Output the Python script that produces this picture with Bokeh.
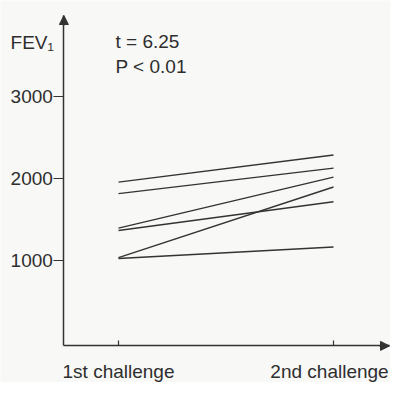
from bokeh.plotting import figure
from bokeh.models import Range1d, FixedTicker, Label, Arrow, NormalHead
from bokeh.embed import file_html
from bokeh.resources import INLINE

categories = ["1st challenge", "2nd challenge"]
first_challenge = [1960, 1820, 1400, 1370, 1040, 1030]
second_challenge = [2290, 2130, 2020, 1720, 1900, 1170]
y_ticks = [1000, 2000, 3000]
annotation_lines = ["t = 6.25", "P < 0.01"]
y_label = "FEV\u2081"

W, H = 390, 382
# view ranges (the whole canvas is the plotting frame; axes are pinned inside it)
x_start, x_end = -0.5488, 1.2651
y_start, y_end = -481, 4172
px_x = W / (x_end - x_start)
px_y = H / (y_end - y_start)

axis_x = -0.254          # where the vertical axis stands
axis_y = -35             # where the horizontal axis stands
x_tip, y_tip = 1.2605, 3989

FONT = "Liberation Sans"
FS = "19px"
TXT = "#2e2e2e"
INK = "#333333"
BG = "#f8f8f6"

p = figure(width=W, height=H, output_backend="svg", toolbar_location=None,
           x_range=Range1d(x_start, x_end), y_range=Range1d(y_start, y_end),
           min_border=0, min_border_left=0, min_border_right=0,
           min_border_top=0, min_border_bottom=0)
p.background_fill_color = BG
p.border_fill_color = BG
p.outline_line_color = None
p.grid.visible = False

for a, b in zip(first_challenge, second_challenge):
    p.line([0, 1], [a, b], line_color=INK, line_width=1.4)

xa = p.xaxis[0]
xa.fixed_location = axis_y
xa.bounds = (axis_x, x_tip)
xa.ticker = FixedTicker(ticks=list(range(len(categories))))
xa.major_label_overrides = {i: "" for i in range(len(categories))}
xa.major_label_text_font_size = "1px"
xa.major_tick_in = 5
xa.major_tick_out = 0
xa.minor_tick_line_color = None
xa.axis_line_color = INK
xa.axis_line_width = 1.5
xa.major_tick_line_color = INK
xa.major_tick_line_width = 1.2

ya = p.yaxis[0]
ya.fixed_location = axis_x
ya.bounds = (axis_y, y_tip)
ya.ticker = FixedTicker(ticks=y_ticks)
ya.major_tick_in = 0
ya.major_tick_out = 10
ya.minor_tick_line_color = None
ya.axis_line_color = INK
ya.axis_line_width = 1.5
ya.major_tick_line_color = INK
ya.major_tick_line_width = 1.2
ya.major_label_standoff = 1
ya.major_label_text_font = FONT
ya.major_label_text_font_size = FS
ya.major_label_text_color = TXT

# axis arrow heads
p.add_layout(Arrow(x_start=axis_x, y_start=y_tip - 10 / px_y, x_end=axis_x, y_end=y_tip,
                   line_color=INK, line_width=1.5,
                   end=NormalHead(size=9, fill_color=INK, line_color=INK)))
p.add_layout(Arrow(x_start=x_tip - 10 / px_x, y_start=axis_y, x_end=x_tip, y_end=axis_y,
                   line_color=INK, line_width=1.5,
                   end=NormalHead(size=9, fill_color=INK, line_color=INK)))

# category labels
cat_offsets = [0, -4]
for i, name in enumerate(categories):
    p.add_layout(Label(x=i + cat_offsets[i] / px_x, y=-347, text=name,
                       text_align="center", text_baseline="middle",
                       text_font=FONT, text_font_size=FS, text_color=TXT))

# y label
p.add_layout(Label(x=axis_x - 10 / px_x, y=3664, text=y_label,
                   text_align="right", text_baseline="middle",
                   text_font=FONT, text_font_size=FS, text_color=TXT))

# statistics text
for j, t in enumerate(annotation_lines):
    p.add_layout(Label(x=0 - 3 / px_x, y=3675 - j * 302, text=t,
                       text_align="left", text_baseline="middle",
                       text_font=FONT, text_font_size=FS, text_color=TXT))

open("out.html", "w").write(file_html(p, INLINE))
